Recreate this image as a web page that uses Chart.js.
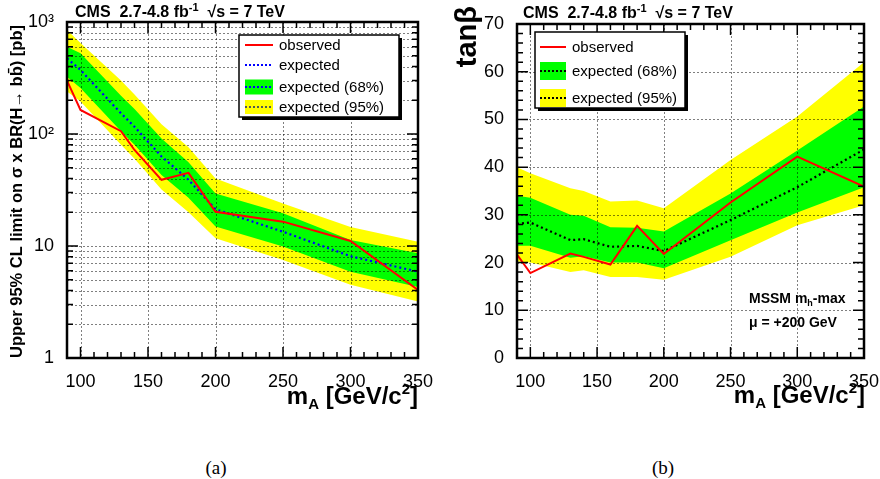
<!DOCTYPE html>
<html>
<head>
<meta charset="utf-8">
<script src="https://cdn.jsdelivr.net/npm/chart.js@4.4.0/dist/chart.umd.min.js"></script>
<style>
  body { margin: 0; background: #fff; width: 880px; height: 479px; overflow: hidden; }
  .panel { position: absolute; top: 0; width: 440px; height: 430px; }
  .cap { position: absolute; top: 457px; width: 40px; text-align: center;
         font: 19px "Liberation Serif", "DejaVu Serif", serif; }
</style>
</head>
<body>
<div class="panel" style="left:0"><canvas id="chartA"></canvas></div>
<div class="panel" style="left:440px"><canvas id="chartB"></canvas></div>
<div class="cap" style="left:196px">(a)</div>
<div class="cap" style="left:643px">(b)</div>
<script>
// mass points, GeV/c^2
const mass = [90, 100, 130, 140, 160, 180, 200, 250, 300, 350];

// (a) upper limit on sigma x BR [pb]
const obsXsec = [299, 164, 106, 72, 39, 45, 20.2, 16.5, 11.1, 4.05];
const expXsec = [474, 373, 153, 116, 63, 39, 21.3, 13.4, 8.1, 5.9];
const g68HiXsec = [600, 525, 220, 167, 91, 56, 29.5, 19.6, 11.3, 8.6];
const g68LoXsec = [324, 257, 106, 80, 43, 27, 14.9, 9.9, 5.9, 4.3];
const y95HiXsec = [850, 650, 300, 225, 122, 76, 40, 24, 14.8, 10.9];
const y95LoXsec = [240, 195, 80, 60, 32, 20, 11.7, 7.5, 4.5, 3.2];

// (b) tan beta limit
const obsTanb = [21.7, 17.8, 21.9, 21.2, 19.6, 27.7, 21.8, 32.6, 42.2, 35.9];
const expTanb = [28.1, 28.4, 24.7, 24.9, 23.3, 23.5, 22.4, 28.9, 35.8, 43.7];
const g68HiTanb = [34, 33.6, 30, 29.8, 27.4, 27.3, 26.5, 34.5, 43.5, 52.7];
const g68LoTanb = [23.5, 23.5, 21, 21.3, 20, 20, 18.8, 24.7, 30.5, 35.8];
const y95HiTanb = [40, 38.7, 35.6, 35, 32.8, 33, 31.4, 41.5, 50.6, 62];
const y95LoTanb = [20.2, 20, 18, 18.4, 17, 17, 16.4, 21.2, 27.8, 32];

// tick labels
const xTicks = [100, 150, 200, 250, 300, 350];
const logTicks = [1, 10, 100, 1000];
const logLabels = ['1', '10', '10²', '10³'];
const tanbTicks = [0, 10, 20, 30, 40, 50, 60, 70];

const FONT = '"Liberation Sans", Arial, sans-serif';

function pts(ys) {
  return mass.map((m, i) => ({ x: m, y: ys[i] }));
}

function drawParts(ctx, parts, x, y, alignRight) {
  // parts: [text, size, dy]
  let total = 0;
  parts.forEach(p => {
    ctx.font = 'bold ' + p[1] + 'px ' + FONT;
    total += ctx.measureText(p[0]).width;
  });
  let cx = alignRight ? x - total : x;
  ctx.textAlign = 'left';
  ctx.textBaseline = 'alphabetic';
  parts.forEach(p => {
    ctx.font = 'bold ' + p[1] + 'px ' + FONT;
    ctx.fillText(p[0], cx, y + p[2]);
    cx += ctx.measureText(p[0]).width;
  });
}

function drawGrid(chart, o) {
  const ctx = chart.ctx, a = chart.chartArea;
  const xs = chart.scales.x, ys = chart.scales.y;
  ctx.save();
  ctx.strokeStyle = 'rgba(0,0,0,0.5)';
  ctx.lineWidth = 1;
  ctx.setLineDash([2, 2]);
  o.gridX.forEach(v => {
    const px = Math.round(xs.getPixelForValue(v)) + 0.5;
    ctx.beginPath(); ctx.moveTo(px, a.top); ctx.lineTo(px, a.bottom); ctx.stroke();
  });
  o.gridY.forEach(v => {
    const py = Math.round(ys.getPixelForValue(v)) + 0.5;
    ctx.beginPath(); ctx.moveTo(a.left, py); ctx.lineTo(a.right, py); ctx.stroke();
  });
  ctx.restore();
}

function drawLegend(ctx, L) {
  ctx.save();
  ctx.fillStyle = '#000';
  ctx.fillRect(L.x + 3, L.y + 3, L.w, L.h);
  ctx.fillStyle = '#fff';
  ctx.fillRect(L.x, L.y, L.w, L.h);
  ctx.strokeStyle = '#000';
  ctx.lineWidth = 1.5;
  ctx.strokeRect(L.x, L.y, L.w, L.h);
  L.entries.forEach(e => {
    if (e.fill) {
      ctx.fillStyle = e.fill;
      ctx.fillRect(L.sx0, e.y - e.h / 2, L.sx1 - L.sx0, e.h);
    }
    ctx.strokeStyle = e.color;
    ctx.lineWidth = 2;
    ctx.setLineDash(e.dash ? [2, 2] : []);
    ctx.beginPath(); ctx.moveTo(L.sx0, e.y); ctx.lineTo(L.sx1, e.y); ctx.stroke();
    ctx.setLineDash([]);
    ctx.fillStyle = '#000';
    ctx.font = '15px ' + FONT;
    ctx.textAlign = 'left';
    ctx.textBaseline = 'middle';
    ctx.fillText(e.text, L.tx, e.y + 1);
  });
  ctx.restore();
}

const rootStyle = {
  id: 'rootStyle',
  beforeDatasetDraw(chart, args, o) {
    if (args.index === 4) drawGrid(chart, o);
  },
  afterDraw(chart, args, o) {
    const ctx = chart.ctx, a = chart.chartArea;
    const xs = chart.scales.x, ys = chart.scales.y;
    ctx.save();
    ctx.strokeStyle = '#000';
    ctx.lineWidth = 1.5;
    // tick marks on all four sides, pointing inward
    const xTick = (v, len) => {
      const px = xs.getPixelForValue(v);
      ctx.beginPath();
      ctx.moveTo(px, a.bottom); ctx.lineTo(px, a.bottom - len);
      ctx.moveTo(px, a.top); ctx.lineTo(px, a.top + len);
      ctx.stroke();
    };
    const yTick = (v, len) => {
      const py = ys.getPixelForValue(v);
      ctx.beginPath();
      ctx.moveTo(a.left, py); ctx.lineTo(a.left + len, py);
      ctx.moveTo(a.right, py); ctx.lineTo(a.right - len, py);
      ctx.stroke();
    };
    o.xMajor.forEach(v => xTick(v, 11));
    o.xMinor.forEach(v => xTick(v, 6));
    o.yMajor.forEach(v => yTick(v, 11));
    o.yMinor.forEach(v => yTick(v, 6));
    // frame
    ctx.lineWidth = 2.5;
    ctx.strokeRect(a.left, a.top, a.right - a.left, a.bottom - a.top);
    ctx.restore();

    drawLegend(ctx, o.legend);

    ctx.save();
    ctx.fillStyle = '#000';
    o.texts.forEach(t => drawParts(ctx, t.parts, t.x, t.y, t.right));
    if (o.yTitle) {
      ctx.translate(o.yTitle.x, o.yTitle.y);
      ctx.rotate(-Math.PI / 2);
      ctx.font = 'bold ' + o.yTitle.size + 'px ' + FONT;
      ctx.textAlign = 'right';
      ctx.textBaseline = 'middle';
      ctx.fillText(o.yTitle.text, 0, 0);
    }
    ctx.restore();
  }
};

function bandSets(hiA, loA, hiB, loB, expVals, expColor, obsVals) {
  return [
    { data: pts(hiA), fill: '+1', backgroundColor: '#ffff00', borderWidth: 0, pointRadius: 0, order: 4 },
    { data: pts(loA), fill: false, borderWidth: 0, pointRadius: 0, order: 4 },
    { data: pts(hiB), fill: '+1', backgroundColor: '#00ff00', borderWidth: 0, pointRadius: 0, order: 3 },
    { data: pts(loB), fill: false, borderWidth: 0, pointRadius: 0, order: 3 },
    { data: pts(expVals), borderColor: expColor, borderWidth: 2.2, borderDash: [2, 3], pointRadius: 0, fill: false, order: 2 },
    { data: pts(obsVals), borderColor: '#ff0000', borderWidth: 2, pointRadius: 0, fill: false, order: 1 }
  ];
}

function xScale(xAxisHeight) {
  return {
    type: 'linear', min: 90, max: 350,
    afterBuildTicks: s => { s.ticks = xTicks.map(v => ({ value: v })); },
    afterFit: s => { s.height = xAxisHeight; s.paddingLeft = 0; s.paddingRight = 0; },
    grid: { display: false }, border: { display: false },
    ticks: { color: '#000', font: { family: FONT, size: 18 }, padding: 5, maxRotation: 0, autoSkip: false, callback: v => String(v) }
  };
}

const xMinor = [];
for (let v = 90; v <= 350; v += 10) if (v % 50 !== 0) xMinor.push(v);

const logMinor = [];
[1, 10, 100].forEach(d => { for (let m = 2; m <= 9; m++) logMinor.push(d * m); });

const tanbMinor = [];
for (let v = 0; v <= 70; v += 2) if (v % 10 !== 0) tanbMinor.push(v);

const cmsHeader = [['CMS  2.7-4.8 fb', 16, 0], ['-1', 11, -6], ['  √s = 7 TeV', 16, 0]];
const mATitle = [['m', 24, 0], ['A', 15, 5], [' [GeV/c', 24, 0], ['2', 15, -10], [']', 24, 0]];

new Chart(document.getElementById('chartA'), {
  type: 'line',
  data: { datasets: bandSets(y95HiXsec, y95LoXsec, g68HiXsec, g68LoXsec, expXsec, '#0000ff', obsXsec) },
  options: {
    responsive: true, maintainAspectRatio: false, animation: false,
    layout: { padding: { top: 22, right: 22, left: 0, bottom: 0 } },
    scales: {
      x: xScale(72),
      y: {
        type: 'logarithmic', min: 1, max: 1000,
        afterBuildTicks: s => { s.ticks = logTicks.map(v => ({ value: v })); },
        afterFit: s => { s.width = 67; s.paddingTop = 0; s.paddingBottom = 0; },
        grid: { display: false }, border: { display: false },
        ticks: { color: '#000', font: { family: FONT, size: 18 }, padding: 5, autoSkip: false, callback: (v, i) => logLabels[i] }
      }
    },
    plugins: {
      legend: { display: false }, tooltip: { enabled: false },
      rootStyle: {
        gridX: xTicks.slice(0, 5),
        gridY: logMinor.concat([10, 100]),
        xMajor: xTicks, xMinor: xMinor,
        yMajor: logTicks, yMinor: logMinor,
        legend: {
          x: 239, y: 35, w: 160, h: 82, sx0: 245, sx1: 273, tx: 279,
          entries: [
            { text: 'observed', color: '#ff0000', y: 45 },
            { text: 'expected', color: '#0000ff', dash: true, y: 65 },
            { text: 'expected (68%)', color: '#0000ff', dash: true, fill: '#00ff00', h: 15, y: 87 },
            { text: 'expected (95%)', color: '#555', dash: true, fill: '#ffff00', h: 14, y: 107 }
          ]
        },
        texts: [
          { parts: cmsHeader, x: 75, y: 17 },
          { parts: mATitle, x: 418, y: 404, right: true }
        ],
        yTitle: { text: 'Upper 95% CL limit on σ x BR(H→ bb̄) [pb]', x: 17, y: 25, size: 16.5 }
      }
    }
  },
  plugins: [rootStyle]
});

new Chart(document.getElementById('chartB'), {
  type: 'line',
  data: { datasets: bandSets(y95HiTanb, y95LoTanb, g68HiTanb, g68LoTanb, expTanb, '#000000', obsTanb) },
  options: {
    responsive: true, maintainAspectRatio: false, animation: false,
    layout: { padding: { top: 24, right: 16, left: 0, bottom: 0 } },
    scales: {
      x: xScale(72),
      y: {
        type: 'linear', min: 0, max: 70,
        afterBuildTicks: s => { s.ticks = tanbTicks.map(v => ({ value: v })); },
        afterFit: s => { s.width = 77; s.paddingTop = 0; s.paddingBottom = 0; },
        grid: { display: false }, border: { display: false },
        ticks: { color: '#000', font: { family: FONT, size: 18 }, padding: 5, autoSkip: false }
      }
    },
    plugins: {
      legend: { display: false }, tooltip: { enabled: false },
      rootStyle: {
        gridX: xTicks.slice(0, 5),
        gridY: tanbTicks.slice(1, 7),
        xMajor: xTicks, xMinor: xMinor,
        yMajor: tanbTicks, yMinor: tanbMinor,
        legend: {
          x: 95, y: 32, w: 150, h: 76, sx0: 100, sx1: 126, tx: 132,
          entries: [
            { text: 'observed', color: '#ff0000', y: 47 },
            { text: 'expected (68%)', color: '#000', dash: true, fill: '#00ff00', h: 18, y: 71 },
            { text: 'expected (95%)', color: '#000', dash: true, fill: '#ffff00', h: 18, y: 98 }
          ]
        },
        texts: [
          { parts: cmsHeader, x: 83, y: 18 },
          { parts: mATitle, x: 425, y: 403, right: true },
          { parts: [['MSSM m', 14, 0], ['h', 9, 3], ['-max', 14, 0]], x: 309, y: 303 },
          { parts: [['μ = +200 GeV', 14, 0]], x: 309, y: 327 }
        ],
        yTitle: { text: 'tanβ', x: 28, y: 6, size: 29 }
      }
    }
  },
  plugins: [rootStyle]
});
</script>
</body>
</html>
